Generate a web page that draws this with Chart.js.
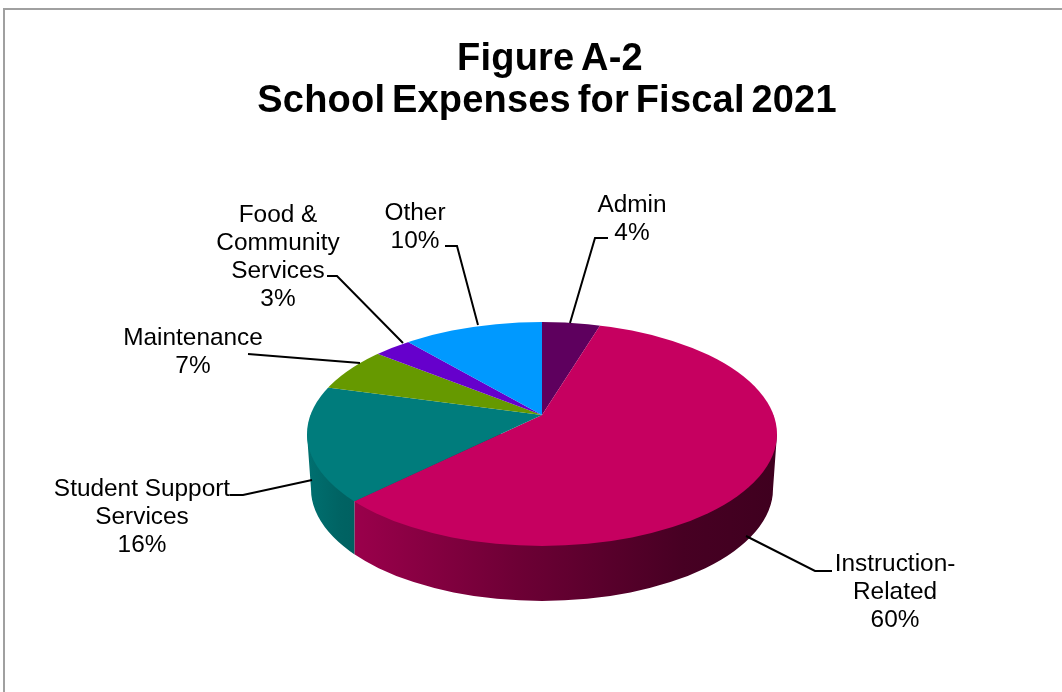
<!DOCTYPE html>
<html>
<head>
<meta charset="utf-8">
<style>
  html, body { margin: 0; padding: 0; background: #fff; }
  #wrap { width: 1062px; height: 692px; }
</style>
<script src="https://cdn.jsdelivr.net/npm/chart.js@4"></script>
</head>
<body>
<div id="wrap"><canvas id="chart" width="1062" height="692"></canvas></div>
<script>
const titleLines = ["Figure A-2", "School Expenses for Fiscal 2021"];
const categories = ["Admin", "Instruction-Related", "Student Support Services", "Maintenance", "Food & Community Services", "Other"];
const percents = [4, 60, 16, 7, 3, 10];
const sliceColors = ["#5e005e", "#c60060", "#007c7c", "#669900", "#6600cc", "#0099ff"];

// text blocks and leader lines around the pie
const callouts = [
  { lines: ["Admin", "4%"], x: 632, y: 212, leader: [[608, 238], [595, 238], [570, 323]] },
  { lines: ["Instruction-", "Related", "60%"], x: 895, y: 571, leader: [[832, 571], [815, 571], [746, 536]] },
  { lines: ["Student Support", "Services", "16%"], x: 142, y: 496, leader: [[230, 495], [243, 495], [312, 480]] },
  { lines: ["Maintenance", "7%"], x: 193, y: 345, leader: [[248, 354], [360, 363]] },
  { lines: ["Food &", "Community", "Services", "3%"], x: 278, y: 222, leader: [[327, 276], [337, 276], [403, 343]] },
  { lines: ["Other", "10%"], x: 415, y: 220, leader: [[445, 246], [457, 246], [478, 325]] }
];

// shape of the tilted pie
const rim = { cx: 542, cy: 434, rx: 235, ry: 112 };
const base = { cy: 489, rx: 231, ry: 112 };
const backTilt = 0.396;
const frontTilt = 0.557;

function shade(hex, f) {
  const n = parseInt(hex.slice(1), 16);
  const c = [n >> 16, (n >> 8) & 255, n & 255].map(v => Math.round(v * f));
  return "rgb(" + c.join(",") + ")";
}

// x where a slice edge meets the front of the rim
function rimX(arc, angle) {
  if (angle <= 0) return 800;
  if (angle >= Math.PI) return 280;
  const dx = Math.cos(angle), dy = Math.sin(angle) * frontTilt;
  const oy = arc.y - rim.cy;
  const A = dx * dx / (rim.rx * rim.rx) + dy * dy / (rim.ry * rim.ry);
  const B = 2 * oy * dy / (rim.ry * rim.ry);
  const C = oy * oy / (rim.ry * rim.ry) - 1;
  const t = (-B + Math.sqrt(B * B - 4 * A * C)) / (2 * A);
  return arc.x + t * dx;
}

const pie3d = {
  id: "pie3d",
  beforeDraw(chart) {
    const ctx = chart.ctx;
    ctx.save();
    ctx.strokeStyle = "#a0a0a0";
    ctx.lineWidth = 2;
    ctx.beginPath();
    ctx.moveTo(4, 692);
    ctx.lineTo(4, 9);
    ctx.lineTo(1062, 9);
    ctx.stroke();
    ctx.restore();
  },
  beforeDatasetDraw(chart, args) {
    const ctx = chart.ctx;
    const arcs = args.meta.data;

    // side wall, one band per slice that faces the front
    arcs.forEach((arc, i) => {
      const from = Math.max(arc.startAngle, 0);
      const to = Math.min(arc.endAngle, Math.PI);
      if (to <= from) return;
      const x1 = rimX(arc, to), x2 = rimX(arc, from);
      const g = ctx.createLinearGradient(rim.cx - rim.rx, 0, rim.cx + rim.rx, 0);
      g.addColorStop(0, shade(sliceColors[i], 0.9));
      g.addColorStop(0.07, shade(sliceColors[i], 0.8));
      g.addColorStop(0.45, shade(sliceColors[i], 0.55));
      g.addColorStop(0.8, shade(sliceColors[i], 0.36));
      g.addColorStop(1, shade(sliceColors[i], 0.32));
      ctx.save();
      ctx.beginPath();
      ctx.rect(x1, 400, x2 - x1, 260);
      ctx.clip();
      ctx.fillStyle = g;
      ctx.beginPath();
      ctx.moveTo(rim.cx - rim.rx, rim.cy);
      ctx.lineTo(rim.cx - base.rx, base.cy);
      ctx.ellipse(rim.cx, base.cy, base.rx, base.ry, 0, Math.PI, 0, true);
      ctx.lineTo(rim.cx + rim.rx, rim.cy);
      ctx.closePath();
      ctx.fill();
      ctx.restore();
    });

    // top face: back half is flatter than the front half, cut to the rim ellipse
    const ax = arcs[0].x, ay = arcs[0].y;
    [[-1000, ay + 0.5 - (-1000), backTilt], [ay, 1000, frontTilt]].forEach(([top, h, tilt]) => {
      ctx.save();
      ctx.beginPath();
      ctx.ellipse(rim.cx, rim.cy, rim.rx, rim.ry, 0, 0, Math.PI * 2);
      ctx.clip();
      ctx.beginPath();
      ctx.rect(0, top, 1062, h);
      ctx.clip();
      ctx.translate(ax, ay);
      ctx.scale(1, tilt);
      ctx.translate(-ax, -ay);
      arcs.forEach(arc => arc.draw(ctx));
      ctx.restore();
    });
    return false;
  },
  afterDraw(chart) {
    const ctx = chart.ctx;
    ctx.save();
    ctx.fillStyle = "#000";
    ctx.textAlign = "center";
    ctx.textBaseline = "alphabetic";

    ctx.font = "bold 38px 'Liberation Sans'";
    ctx.wordSpacing = "-4px";
    ctx.letterSpacing = "0.2px";
    ctx.fillText(titleLines[0], 550, 70);
    ctx.fillText(titleLines[1], 547, 112);
    ctx.wordSpacing = "0px";
    ctx.letterSpacing = "0px";

    ctx.font = "24.4px 'Liberation Sans'";
    ctx.strokeStyle = "#000";
    ctx.lineWidth = 2;
    callouts.forEach(c => {
      c.lines.forEach((t, i) => ctx.fillText(t, c.x, c.y + i * 28));
      ctx.beginPath();
      c.leader.forEach(([x, y], i) => i ? ctx.lineTo(x, y) : ctx.moveTo(x, y));
      ctx.stroke();
    });
    ctx.restore();
  }
};

new Chart(document.getElementById("chart"), {
  type: "pie",
  data: {
    labels: categories,
    datasets: [{ data: percents, backgroundColor: sliceColors, borderWidth: 0 }]
  },
  options: {
    responsive: false,
    animation: false,
    events: [],
    layout: { padding: { left: 242, right: 220, top: 145, bottom: 7 } },
    plugins: { legend: { display: false }, title: { display: false }, tooltip: { enabled: false } }
  },
  plugins: [pie3d]
});
</script>
</body>
</html>
